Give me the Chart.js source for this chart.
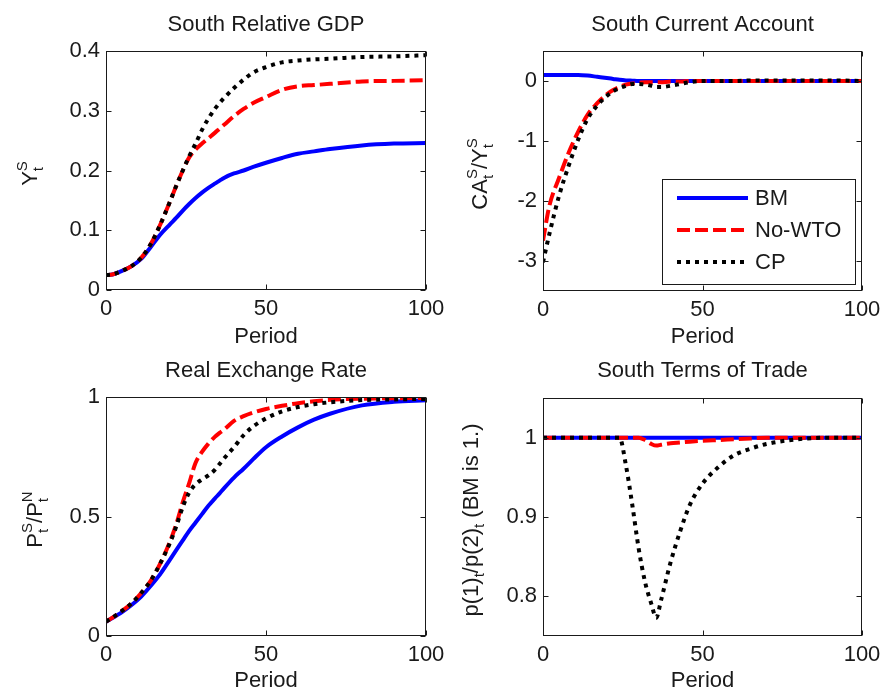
<!DOCTYPE html>
<html>
<head>
<meta charset="utf-8">
<script src="https://cdn.jsdelivr.net/npm/chart.js@4.4.0/dist/chart.umd.min.js"></script>
<style>
  body { margin: 0; background: #fff; width: 885px; height: 694px; position: relative; overflow: hidden; }
  .panel { position: absolute; }
</style>
</head>
<body>
<div class="panel" style="left:440px;top:0;width:445px;height:352px"><canvas id="c2"></canvas></div>
<div class="panel" style="left:440px;top:347px;width:445px;height:347px"><canvas id="c4"></canvas></div>
<div class="panel" style="left:0;top:0;width:455px;height:352px"><canvas id="c1"></canvas></div>
<div class="panel" style="left:0;top:347px;width:455px;height:347px"><canvas id="c3"></canvas></div>
<script>
// periods (x axis)
var periods = [0, 2, 5, 8, 11, 14, 17, 20, 22, 24, 26, 28, 30, 32, 34, 35.5, 37, 40, 43, 46, 50, 55, 60, 65, 70, 80, 90, 100];
var periodTicks = [0, 50, 100];
var seriesNames = ['BM', 'No-WTO', 'CP'];

// South Relative GDP
var gdpBM    = [0.025, 0.026, 0.032, 0.040, 0.052, 0.072, 0.093, 0.110, 0.121, 0.133, 0.144, 0.154, 0.163, 0.171, 0.178, 0.183, 0.188, 0.195, 0.200, 0.206, 0.213, 0.221, 0.228, 0.232, 0.236, 0.242, 0.245, 0.246];
var gdpNoWTO = [0.025, 0.026, 0.032, 0.040, 0.054, 0.077, 0.110, 0.148, 0.175, 0.200, 0.222, 0.235, 0.245, 0.254, 0.263, 0.270, 0.277, 0.291, 0.303, 0.313, 0.323, 0.335, 0.341, 0.343, 0.345, 0.349, 0.350, 0.351];
var gdpCP    = [0.025, 0.026, 0.032, 0.040, 0.054, 0.077, 0.110, 0.148, 0.175, 0.200, 0.224, 0.245, 0.268, 0.287, 0.303, 0.313, 0.322, 0.338, 0.352, 0.364, 0.373, 0.381, 0.384, 0.386, 0.387, 0.390, 0.391, 0.393];
var gdpTicks = [0, 0.1, 0.2, 0.3, 0.4];

// South Current Account
var caBM    = [0.1, 0.1, 0.1, 0.1, 0.1, 0.09, 0.07, 0.05, 0.035, 0.02, 0.01, 0.005, 0, 0, 0, 0, 0, 0, 0, 0, 0, 0, 0, 0, 0, 0, 0, 0];
var caNoWTO = [-2.66, -2.08, -1.62, -1.2, -0.85, -0.56, -0.37, -0.22, -0.15, -0.1, -0.06, -0.04, -0.03, -0.02, -0.02, -0.02, -0.02, -0.01, -0.01, 0, 0, 0, 0, 0, 0, 0, 0, 0];
var caCP    = [-3.02, -2.55, -1.92, -1.42, -0.98, -0.63, -0.41, -0.25, -0.17, -0.12, -0.08, -0.05, -0.05, -0.06, -0.08, -0.1, -0.1, -0.08, -0.05, -0.02, 0, 0, 0, 0.01, 0.01, 0.01, 0.01, 0];
var caTicks = [-3, -2, -1, 0];

// Real Exchange Rate
var rerBM    = [0.06, 0.075, 0.10, 0.13, 0.165, 0.21, 0.26, 0.32, 0.36, 0.40, 0.44, 0.475, 0.51, 0.545, 0.575, 0.597, 0.62, 0.663, 0.70, 0.74, 0.79, 0.835, 0.873, 0.905, 0.93, 0.965, 0.98, 0.986];
var rerNoWTO = [0.06, 0.077, 0.105, 0.137, 0.18, 0.232, 0.305, 0.395, 0.47, 0.56, 0.64, 0.725, 0.77, 0.805, 0.833, 0.85, 0.865, 0.90, 0.92, 0.935, 0.95, 0.963, 0.974, 0.982, 0.988, 0.993, 0.995, 0.996];
var rerCP    = [0.06, 0.077, 0.105, 0.137, 0.18, 0.232, 0.305, 0.39, 0.46, 0.54, 0.60, 0.635, 0.655, 0.672, 0.695, 0.72, 0.745, 0.79, 0.84, 0.877, 0.91, 0.94, 0.958, 0.97, 0.978, 0.987, 0.99, 0.992];
var rerTicks = [0, 0.5, 1];

// South Terms of Trade
var totBM    = [1, 1, 1, 1, 1, 1, 1, 1, 1, 1, 1, 1, 1, 1, 1, 1, 1, 1, 1, 1, 1, 1, 1, 1, 1, 1, 1, 1];
var totNoWTO = [1, 1, 1, 1, 1, 1, 1, 1, 1, 1, 1, 1, 1, 0.997, 0.992, 0.99, 0.991, 0.993, 0.994, 0.995, 0.996, 0.997, 0.998, 0.999, 1, 1, 1, 1];
var totCP    = [1, 1, 1, 1, 1, 1, 1, 1, 1, 1, 0.965, 0.915, 0.86, 0.818, 0.79, 0.773, 0.795, 0.843, 0.882, 0.915, 0.942, 0.963, 0.978, 0.986, 0.992, 0.998, 1, 1];
var totTicks = [0.8, 0.9, 1];

var FAM = '"Liberation Sans", Arial, Helvetica, sans-serif';
var FS = 22;
Chart.defaults.font.family = FAM;
Chart.defaults.font.size = FS;
Chart.defaults.color = '#1a1a1a';
Chart.defaults.animation = false;

function fmt(v) {
    return String(Math.round(v * 100) / 100);
}

// y label with stacked super/subscripts, rotated
function drawRichLabel(ctx, parts, baseX, centerY) {
    var small = Math.round(FS * 0.68);
    var total = 0;
    parts.forEach(function (p) {
        ctx.font = FS + 'px ' + FAM;
        p.w = ctx.measureText(p.text).width;
        ctx.font = small + 'px ' + FAM;
        p.s = Math.max(p.sup ? ctx.measureText(p.sup).width : 0, p.sub ? ctx.measureText(p.sub).width : 0);
        total += p.w + p.s;
    });
    ctx.save();
    ctx.translate(baseX, centerY);
    ctx.rotate(-Math.PI / 2);
    ctx.fillStyle = '#1a1a1a';
    ctx.textAlign = 'left';
    ctx.textBaseline = 'alphabetic';
    var x = -total / 2;
    parts.forEach(function (p) {
        ctx.font = FS + 'px ' + FAM;
        ctx.fillText(p.text, x, 0);
        x += p.w;
        ctx.font = small + 'px ' + FAM;
        if (p.sup) ctx.fillText(p.sup, x, -FS * 0.45);
        if (p.sub) ctx.fillText(p.sub, x, FS * 0.28);
        x += p.s;
    });
    ctx.restore();
}

// matlab-like box, inward ticks, title, y label and legend
var matlabBox = {
    id: 'matlabBox',
    afterDatasetsDraw: function (chart, args, opts) {
        var ctx = chart.ctx, a = chart.chartArea;
        var sx = chart.scales.x, sy = chart.scales.y;
        var L = Math.round(a.left) + 0.5, R = Math.round(a.right) - 0.5;
        var T = Math.round(a.top) + 0.5, B = Math.round(a.bottom) - 0.5;
        ctx.save();
        ctx.strokeStyle = '#1a1a1a';
        ctx.lineWidth = 1;
        ctx.setLineDash([]);
        ctx.strokeRect(L, T, R - L, B - T);
        ctx.beginPath();
        sx.ticks.forEach(function (t) {
            var px = Math.round(sx.getPixelForValue(t.value)) + 0.5;
            ctx.moveTo(px, B); ctx.lineTo(px, B - 5);
            ctx.moveTo(px, T); ctx.lineTo(px, T + 5);
        });
        sy.ticks.forEach(function (t) {
            var py = Math.round(sy.getPixelForValue(t.value)) + 0.5;
            ctx.moveTo(L, py); ctx.lineTo(L + 5, py);
            ctx.moveTo(R, py); ctx.lineTo(R - 5, py);
        });
        ctx.stroke();

        // title centred over the axes
        ctx.fillStyle = '#1a1a1a';
        ctx.font = FS + 'px ' + FAM;
        ctx.textAlign = 'center';
        ctx.textBaseline = 'alphabetic';
        ctx.fillText(opts.title, (a.left + a.right) / 2, opts.titleBase);

        drawRichLabel(ctx, opts.label, opts.labelX, (a.top + a.bottom) / 2 + 3);

        if (opts.legend) {
            var bw = 193, bh = 105;
            var bx = Math.round(a.right) - 7 - bw, by = Math.round(a.bottom) - 7 - bh;
            ctx.fillStyle = '#fff';
            ctx.fillRect(bx, by, bw, bh);
            ctx.strokeStyle = '#1a1a1a';
            ctx.lineWidth = 1;
            ctx.strokeRect(bx + 0.5, by + 0.5, bw, bh);
            ctx.font = FS + 'px ' + FAM;
            ctx.textBaseline = 'middle';
            ctx.textAlign = 'left';
            chart.data.datasets.forEach(function (ds, i) {
                var yy = by + 19 + i * 32;
                ctx.beginPath();
                ctx.strokeStyle = ds.borderColor;
                ctx.lineWidth = ds.borderWidth;
                ctx.setLineDash(ds.borderDash || []);
                ctx.moveTo(bx + 15, yy);
                ctx.lineTo(bx + 86, yy);
                ctx.stroke();
                ctx.setLineDash([]);
                ctx.fillStyle = '#1a1a1a';
                ctx.fillText(ds.label, bx + 93, yy + 1);
            });
        }
        ctx.restore();
    }
};

function makeDatasets(bm, nowto, cp) {
    function pts(arr) {
        return periods.map(function (p, i) { return { x: p, y: arr[i] }; });
    }
    return [
        { label: seriesNames[0], data: pts(bm), borderColor: '#0000ff', borderWidth: 4, borderDash: [], order: 3 },
        { label: seriesNames[1], data: pts(nowto), borderColor: '#ff0000', borderWidth: 4, borderDash: [13, 5], order: 2 },
        { label: seriesNames[2], data: pts(cp), borderColor: '#000000', borderWidth: 4, borderDash: [4, 5], order: 1 }
    ];
}

function makePanel(id, p) {
    var ctx = document.getElementById(id).getContext('2d');
    var periodMid = p.periodBase - 0.3465 * FS;
    var periodPad = Math.max(0, p.h - periodMid - FS * 0.6);
    return new Chart(ctx, {
        type: 'line',
        data: { datasets: p.datasets },
        options: {
            responsive: true,
            maintainAspectRatio: false,
            layout: { padding: { left: 0, top: p.area[1], right: p.w - p.area[2], bottom: 0 } },
            elements: {
                point: { radius: 0 },
                line: { cubicInterpolationMode: 'monotone', borderCapStyle: 'butt', borderJoinStyle: 'round' }
            },
            plugins: {
                legend: { display: false },
                tooltip: { enabled: false },
                title: { display: false },
                matlabBox: { title: p.title, titleBase: p.titleBase, label: p.label, labelX: p.labelX, legend: !!p.legend }
            },
            scales: {
                x: {
                    type: 'linear',
                    min: 0,
                    max: 100,
                    grid: { display: false, drawTicks: false },
                    border: { display: false },
                    ticks: { padding: 6, maxRotation: 0, autoSkip: false, callback: fmt },
                    afterBuildTicks: function (s) { s.ticks = periodTicks.map(function (v) { return { value: v }; }); },
                    afterFit: function (s) {
                        s.height = p.h - p.area[3];
                        s.paddingLeft = 0; s.paddingRight = 0;
                    },
                    title: { display: true, text: 'Period', font: { size: FS }, padding: { top: 0, bottom: periodPad } }
                },
                y: {
                    min: p.ymin,
                    max: p.ymax,
                    grid: { display: false, drawTicks: false },
                    border: { display: false },
                    ticks: { padding: 6, autoSkip: false, callback: fmt },
                    afterBuildTicks: function (s) { s.ticks = p.yticks.map(function (v) { return { value: v }; }); },
                    afterFit: function (s) {
                        s.width = p.area[0];
                        s.paddingTop = 0; s.paddingBottom = 0;
                    }
                }
            }
        },
        plugins: [matlabBox]
    });
}

makePanel('c1', {
    w: 455, h: 352, area: [106, 51, 426, 290], titleBase: 31, periodBase: 345,
    title: 'South Relative GDP', ymin: 0, ymax: 0.4, yticks: gdpTicks,
    label: [{ text: 'Y', sup: 'S', sub: 't' }], labelX: 37,
    datasets: makeDatasets(gdpBM, gdpNoWTO, gdpCP)
});
makePanel('c2', {
    w: 445, h: 352, area: [103, 51, 422, 291], titleBase: 31, periodBase: 345,
    title: 'South Current Account', ymin: -3.5, ymax: 0.5, yticks: caTicks,
    label: [{ text: 'CA', sup: 'S', sub: 't' }, { text: '/Y', sup: 'S', sub: 't' }], labelX: 47,
    datasets: makeDatasets(caBM, caNoWTO, caCP), legend: true
});
makePanel('c3', {
    w: 455, h: 347, area: [106, 50, 426, 289], titleBase: 30, periodBase: 342,
    title: 'Real Exchange Rate', ymin: 0, ymax: 1, yticks: rerTicks,
    label: [{ text: 'P', sup: 'S', sub: 't' }, { text: '/P', sup: 'N', sub: 't' }], labelX: 42,
    datasets: makeDatasets(rerBM, rerNoWTO, rerCP)
});
makePanel('c4', {
    w: 445, h: 347, area: [103, 51, 422, 289], titleBase: 30, periodBase: 342,
    title: 'South Terms of Trade', ymin: 0.75, ymax: 1.05, yticks: totTicks,
    label: [{ text: 'p(1)', sub: 't' }, { text: '/p(2)', sub: 't' }, { text: ' (BM is 1.)' }], labelX: 38,
    datasets: makeDatasets(totBM, totNoWTO, totCP)
});
</script>
</body>
</html>
